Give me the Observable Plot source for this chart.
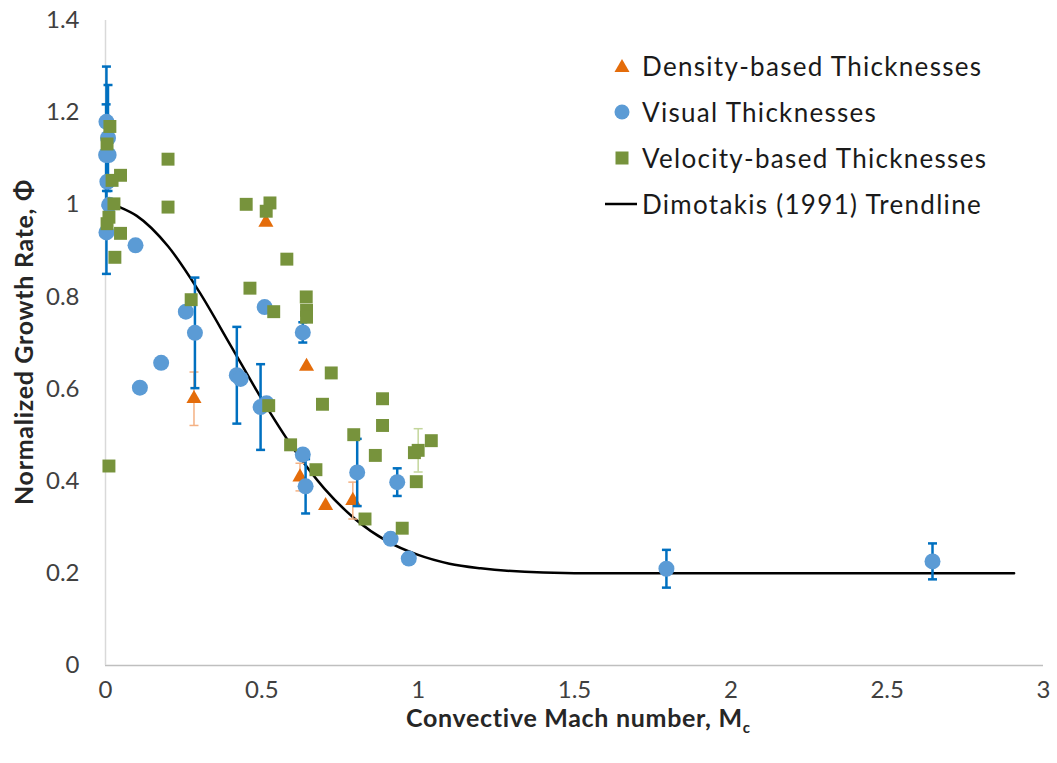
<!DOCTYPE html>
<html><head><meta charset="utf-8">
<script src="https://cdn.jsdelivr.net/npm/d3@7"></script>
<script src="https://cdn.jsdelivr.net/npm/@observablehq/plot@0.6"></script>
<style>
body{margin:0;background:#fff;font-family:Lato,"Open Sans",sans-serif;}
#wrap{position:relative;width:1057px;height:763px;overflow:hidden;background:#fff}
#wrap > svg{position:absolute;left:0;top:0}
.legend{position:absolute;left:600px;top:43px;color:#1a1a1a;font-size:26px;letter-spacing:1.3px;line-height:46px}
.legend div{display:flex;align-items:center;height:46px;white-space:nowrap}
.legend svg{width:38px;height:20px;margin-right:4px;flex:none}
.xtitle{position:absolute;left:0;width:1156px;text-align:center;top:702px;font-weight:bold;font-size:25px;letter-spacing:0.7px;color:#262626}
.ytitle{position:absolute;left:23px;top:342px;transform:translate(-50%,-50%) rotate(-90deg);font-weight:bold;font-size:25px;letter-spacing:0.7px;color:#262626;white-space:nowrap}
</style></head><body><div id="wrap">
<div class="legend">
 <div><svg viewBox="0 0 38 20"><path d="M22,3 L29.5,16 L14.5,16 Z" fill="#E46C0A"/></svg>Density-based Thicknesses</div>
 <div><svg viewBox="0 0 38 20"><circle cx="22" cy="10" r="7.5" fill="#5B9BD5"/></svg>Visual Thicknesses</div>
 <div><svg viewBox="0 0 38 20"><rect x="15.5" y="3.5" width="13" height="13" fill="#77933C"/></svg>Velocity-based Thicknesses</div>
 <div><svg viewBox="0 0 38 20"><line x1="5" y1="10" x2="37" y2="10" stroke="#000" stroke-width="2.5"/></svg>Dimotakis (1991) Trendline</div>
</div>
<div class="xtitle">Convective Mach number, M<sub style="font-size:15px;letter-spacing:0">c</sub></div>
<div class="ytitle">Normalized Growth Rate, Φ</div>
</div>
<script>
// Density-based thicknesses (orange triangles)
const densityMc  = [0.283, 0.513, 0.643, 0.622, 0.704, 0.791];
const densityPhi = [0.579, 0.962, 0.649, 0.409, 0.347, 0.358];
const densityErr = [0.058, 0,     0,     0.03,  0,     0.04];

// Visual thicknesses (blue circles)
const visualMc  = [0.003, 0.008, 0.002, 0.010, 0.006, 0.012, 0.003, 0.096, 0.110, 0.178, 0.257, 0.286, 0.420, 0.432, 0.496, 0.515, 0.509, 0.631, 0.631, 0.640, 0.805, 0.933, 0.912, 0.970, 1.794, 2.645];
const visualPhi = [1.180, 1.145, 1.108, 1.108, 1.050, 1.000, 0.940, 0.912, 0.603, 0.657, 0.768, 0.722, 0.630, 0.622, 0.561, 0.569, 0.778, 0.723, 0.458, 0.389, 0.419, 0.398, 0.275, 0.232, 0.210, 0.226];
const visualErr = [0.120, 0.115, 0.110, 0,     0,     0,     0.090, 0,     0,     0,     0,     0.120, 0.105, 0,     0.093, 0,     0,     0.022, 0,     0.059, 0.073, 0.030, 0,     0,     0.041, 0.039];

// Velocity-based thicknesses (green squares)
const velocityMc  = [0.011, 0.014, 0.005, 0.048, 0.021, 0.027, 0.011, 0.005, 0.048, 0.030, 0.200, 0.200, 0.274, 0.462, 0.538, 0.522, 0.450, 0.526, 0.514, 0.580, 0.642, 0.643, 0.643, 0.722, 0.694, 0.886, 0.886, 0.794, 1.042, 0.592, 0.673, 0.863, 1.000, 0.988, 0.994, 0.830, 0.949];
const velocityPhi = [0.433, 1.170, 1.132, 1.064, 1.053, 1.002, 0.973, 0.959, 0.938, 0.886, 1.099, 0.995, 0.794, 0.819, 0.768, 0.564, 1.001, 1.004, 0.986, 0.882, 0.800, 0.771, 0.756, 0.635, 0.567, 0.579, 0.521, 0.501, 0.488, 0.479, 0.425, 0.456, 0.467, 0.462, 0.399, 0.318, 0.298];
const velocityErr = [0, 0, 0, 0, 0, 0, 0, 0, 0, 0, 0, 0, 0, 0, 0, 0, 0, 0, 0, 0, 0, 0, 0, 0, 0, 0, 0, 0, 0, 0, 0, 0, 0.047, 0, 0, 0, 0];

// Dimotakis (1991) trendline
const trendMc  = [0.045, 0.1, 0.2, 0.3, 0.4, 0.5, 0.6, 0.7, 0.8, 0.9, 1.0, 1.1, 1.2, 1.4, 1.6, 2.0, 2.5, 2.906];
const trendPhi = [0.995, 0.976, 0.910, 0.811, 0.695, 0.578, 0.472, 0.384, 0.317, 0.270, 0.240, 0.221, 0.211, 0.202, 0.200, 0.200, 0.200, 0.200];

const xTicks = [0, 0.5, 1, 1.5, 2, 2.5, 3];
const yTicks = [0, 0.2, 0.4, 0.6, 0.8, 1, 1.2, 1.4];

const rows = (mc, phi, err) => mc.map((m, i) => ({mc: m, phi: phi[i], err: err[i]}));
const density = rows(densityMc, densityPhi, densityErr);
const visual = rows(visualMc, visualPhi, visualErr);
const velocity = rows(velocityMc, velocityPhi, velocityErr);
const trend = trendMc.map((m, i) => ({mc: m, phi: trendPhi[i]}));

const cap = {draw(ctx) { ctx.moveTo(-4.5, 0); ctx.lineTo(4.5, 0); }};

function errMarks(data, color, width) {
  const e = data.filter(d => d.err > 0);
  return [
    Plot.ruleX(e, {x: "mc", y1: d => d.phi - d.err, y2: d => d.phi + d.err, stroke: color, strokeWidth: width}),
    Plot.dot(e, {x: "mc", y: d => d.phi - d.err, symbol: cap, r: 5, stroke: color, strokeWidth: width}),
    Plot.dot(e, {x: "mc", y: d => d.phi + d.err, symbol: cap, r: 5, stroke: color, strokeWidth: width})
  ];
}

const chart = Plot.plot({
  width: 1057, height: 763,
  marginLeft: 105, marginRight: 14, marginTop: 20, marginBottom: 98,
  style: {fontFamily: "Lato, 'Open Sans', sans-serif", background: "transparent"},
  x: {domain: [0, 3]},
  y: {domain: [0, 1.4]},
  marks: [
    Plot.ruleY([0], {stroke: "#BFBFBF", strokeWidth: 1.5}),
    Plot.ruleX([0], {stroke: "#D9D9D9", strokeWidth: 1.5}),
    Plot.axisX({ticks: xTicks, tickSize: 0, tickPadding: 15, fontSize: 24, fill: "#404040", label: null, tickFormat: d => String(d)}),
    Plot.axisY({ticks: yTicks, tickSize: 0, tickPadding: 26, fontSize: 24, fill: "#404040", label: null, tickFormat: d => String(d)}),
    Plot.line(trend, {x: "mc", y: "phi", curve: "monotone-x", stroke: "#000", strokeWidth: 2.5}),
    ...errMarks(density, "#F4B183", 1.5),
    Plot.dot(density, {x: "mc", y: "phi", symbol: "triangle", r: 5.6, fill: "#E46C0A"}),
    ...errMarks(visual, "#0070C0", 2.5),
    Plot.dot(visual, {x: "mc", y: "phi", symbol: "circle", r: 8, fill: "#5B9BD5"}),
    ...errMarks(velocity, "#C3D69B", 1.5),
    Plot.dot(velocity, {x: "mc", y: "phi", symbol: "square", r: 7.3, fill: "#77933C"})
  ]
});
document.getElementById("wrap").prepend(chart);
</script></body></html>
